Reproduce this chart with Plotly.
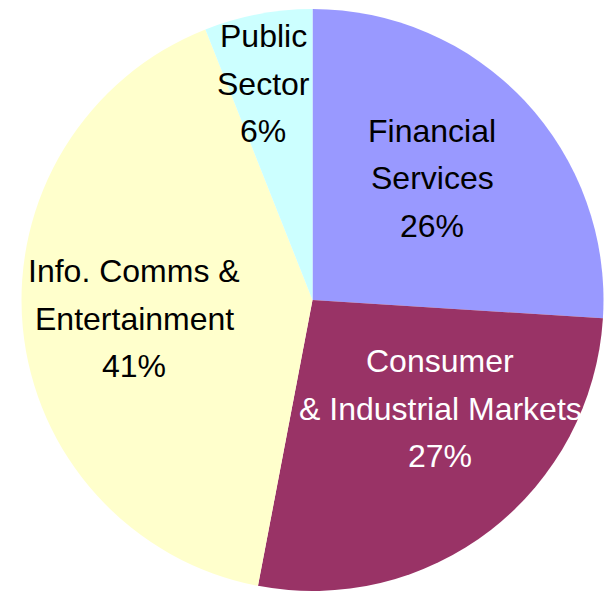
import math
import plotly.graph_objects as go

# ---- data ----
labels = ["Financial Services", "Consumer & Industrial Markets",
          "Info. Comms & Entertainment", "Public Sector"]
label_lines = [["Financial", "Services"],
               ["Consumer", "& Industrial Markets"],
               ["Info. Comms &", "Entertainment"],
               ["Public", "Sector"]]
values = [26, 27, 41, 6]
colors = ["#9999FF", "#993366", "#FFFFCC", "#CCFFFF"]
text_colors = ["black", "white", "black", "black"]

# ---- layout / style ----
W, H = 604, 591
# desired pie on screen: centre (312.5, 300.5), radius ~291.5
SCX, SCY, SR = 312.5, 300.5, 291.5
dom_x = [max(0.0, (SCX - SR) / W), min(1.0, (SCX + SR) / W)]
dom_y = [max(0.0, 1 - (SCY + SR) / H), min(1.0, 1 - (SCY - SR) / H)]
# label placement: (angle tweak in degrees, radial fraction)
label_place = [(-2.4, 0.586), (-11.9, 0.575), (-0.5, 0.614), (-2.0, 0.763)]
FONT = "Liberation Sans, Arial, sans-serif"
FS = 32
LINE = 47.5

fig = go.Figure(go.Pie(
    labels=labels, values=values, sort=False, direction="clockwise",
    rotation=0, marker=dict(colors=colors, line=dict(width=0)),
    textinfo="none", hoverinfo="skip", showlegend=False,
    domain=dict(x=dom_x, y=dom_y),
))

total = sum(values)
cum = 0
annotations = []
for i, v in enumerate(values):
    mid = (cum + v / 2) / total * 360
    cum += v
    tweak, frac = label_place[i]
    ang = math.radians(mid + tweak)
    px = SCX + frac * SR * math.sin(ang)
    py = SCY - frac * SR * math.cos(ang)
    pct = f"{round(v / total * 100)}%"
    lines = label_lines[i] + [pct]
    for j, ln in enumerate(lines):
        ly = py + (j - 1) * LINE
        annotations.append(dict(
            x=px / W, y=1 - ly / H, xref="paper", yref="paper",
            text=ln, showarrow=False, xanchor="center", yanchor="middle",
            font=dict(family=FONT, size=FS, color=text_colors[i]),
        ))

fig.update_layout(
    width=W, height=H, margin=dict(l=0, r=0, t=0, b=0),
    paper_bgcolor="white", plot_bgcolor="white",
    annotations=annotations,
)
fig.write_html("out.html",
               config={"displayModeBar": False},
               post_script="document.body.style.margin='0';"
                           "document.body.style.overflow='hidden';")
